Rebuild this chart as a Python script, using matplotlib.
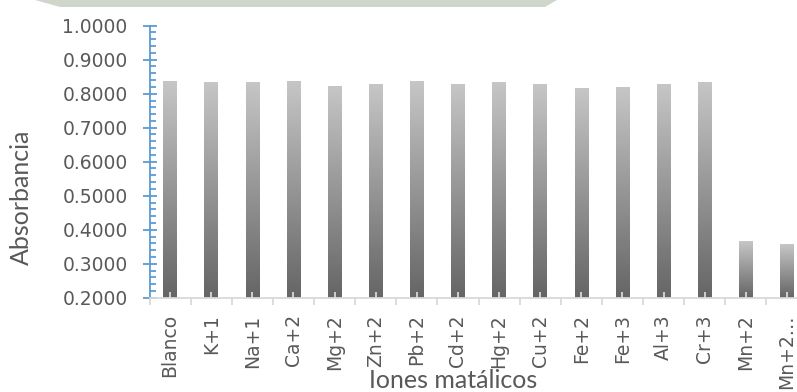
#Absorbancia frente a iones metálicos interferentes
import numpy as np
import matplotlib.pyplot as plt
from matplotlib.colors import LinearSegmentedColormap
from matplotlib.patches import Polygon
from matplotlib.ticker import MultipleLocator, FixedLocator

iones = ['Blanco', 'K+1', 'Na+1', 'Ca+2', 'Mg+2', 'Zn+2', 'Pb+2', 'Cd+2',
         'Hg+2', 'Cu+2', 'Fe+2', 'Fe+3', 'Al+3', 'Cr+3', 'Mn+2', 'Mn+2…']
absorbancia = [0.836, 0.833, 0.833, 0.836, 0.821, 0.827, 0.836, 0.827,
               0.833, 0.827, 0.815, 0.818, 0.827, 0.833, 0.366, 0.358]
y_min, y_max = 0.2, 1.0

gris = '#595959'
degradado = LinearSegmentedColormap.from_list('barra', ['#656565', '#c6c6c6'])

fig = plt.figure(figsize=(7.97, 3.92), dpi=100)
ax = fig.add_axes([149.5 / 797, 94.3 / 392, 658 / 797, 272 / 392])

# franja del logo de fondo
fig.patches.append(Polygon([(35 / 797, 1), (557 / 797, 1), (545 / 797, 1 - 7 / 392), (60 / 797, 1 - 7 / 392)],
                           closed=True, transform=fig.transFigure, facecolor='#cfd6cc',
                           edgecolor='none', zorder=0))

# barras con degradado vertical (oscuro abajo, claro arriba)
ancho = 0.33
grad = np.linspace(0, 1, 256).reshape(-1, 1)
for i, v in enumerate(absorbancia):
    ax.imshow(grad, cmap=degradado, origin='lower', aspect='auto', interpolation='bilinear',
              extent=(i - ancho / 2, i + ancho / 2, y_min, v), zorder=1)

ax.set_xlim(-0.5, len(iones) - 0.5)
ax.set_ylim(y_min, y_max)
ax.set_aspect('auto')

for s in ['top', 'right']:
    ax.spines[s].set_visible(False)
ax.spines['left'].set_color('#5b9bd5')
ax.spines['left'].set_linewidth(1.3)
ax.spines['bottom'].set_color('#d9d9d9')
ax.spines['bottom'].set_linewidth(1.3)

ax.yaxis.set_major_locator(MultipleLocator(0.1))
ax.yaxis.set_minor_locator(MultipleLocator(0.02))
ax.yaxis.set_major_formatter(lambda y, pos: f'{y:.4f}')
ax.tick_params(axis='y', which='major', direction='inout', length=9.5, width=1.3,
               color='#5b9bd5', labelsize=13.5, labelcolor=gris, pad=11)
ax.tick_params(axis='y', which='minor', direction='in', length=4.5, width=1.3, color='#5b9bd5')

ax.set_xticks(range(len(iones)))
ax.set_xticklabels(iones, rotation=90)
ax.xaxis.set_minor_locator(FixedLocator(np.arange(-0.5, len(iones), 1.0)))
ax.tick_params(axis='x', which='major', direction='in', length=4, width=1.3,
               color='#d9d9d9', labelsize=13.5, labelcolor=gris, pad=12)
ax.tick_params(axis='x', which='minor', direction='out', length=5, width=1.3, color='#d9d9d9')

fig.text(21 / 797, 1 - 197.5 / 392, 'Absorbancia', rotation=90, ha='center', va='center',
         fontsize=18, color=gris, family='Lato')
fig.text(453.5 / 797, 1 - 381 / 392, 'Iones matálicos', ha='center', va='center',
         fontsize=18, color=gris, family='Lato')

fig.savefig('out.png', dpi=100)
